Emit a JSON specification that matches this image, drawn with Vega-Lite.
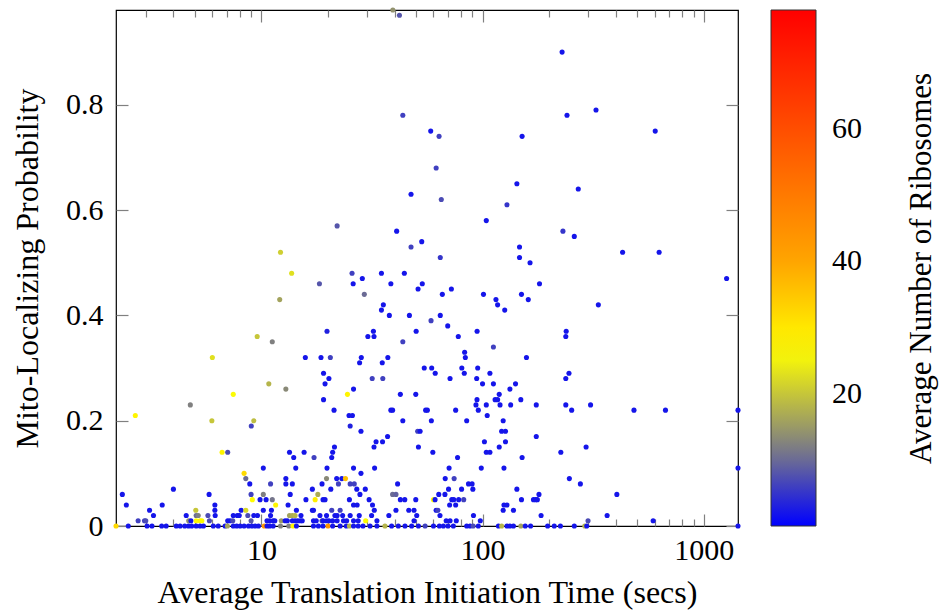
{
"$schema": "https://vega.github.io/schema/vega-lite/v6.json",
"width": 622, "height": 516,
"autosize": "none",
"padding": {"left": 116, "top": 10, "right": 204, "bottom": 84},
"background": "white",
"config": {
  "font": "Liberation Serif",
  "view": {"stroke": "#000", "strokeWidth": 1.2},
  "axis": {"labelFont": "Liberation Serif", "titleFont": "Liberation Serif", "labelFontSize": 30, "titleFontSize": 32, "titleFontWeight": "normal", "labelColor": "#000", "titleColor": "#000", "tickColor": "#808080", "tickWidth": 1.2, "domain": false, "grid": false, "titleLimit": 1000}
},
"data": {"values": [
{"time":39.3,"prob":0.98,"ribo":14},{"time":42.1,"prob":0.97,"ribo":8},{"time":43.6,"prob":0.78,"ribo":6},{"time":47.5,"prob":0.63,"ribo":2},{"time":22.0,"prob":0.57,"ribo":8},{"time":40.9,"prob":0.56,"ribo":2},{"time":47.5,"prob":0.53,"ribo":6},{"time":12.2,"prob":0.52,"ribo":21},{"time":13.7,"prob":0.48,"ribo":23},{"time":12.1,"prob":0.43,"ribo":16},
{"time":18.3,"prob":0.46,"ribo":8},{"time":25.7,"prob":0.48,"ribo":6},{"time":26.0,"prob":0.46,"ribo":2},{"time":28.6,"prob":0.47,"ribo":2},{"time":29.2,"prob":0.44,"ribo":10},{"time":34.9,"prob":0.48,"ribo":2},{"time":38.5,"prob":0.46,"ribo":2},{"time":44.3,"prob":0.48,"ribo":2},{"time":51.1,"prob":0.45,"ribo":2},{"time":35.6,"prob":0.42,"ribo":2},
{"time":34.9,"prob":0.41,"ribo":2},{"time":37.9,"prob":0.40,"ribo":2},{"time":46.7,"prob":0.40,"ribo":2},{"time":19.8,"prob":0.37,"ribo":3},{"time":9.57,"prob":0.36,"ribo":20},{"time":11.2,"prob":0.35,"ribo":12},{"time":30.3,"prob":0.36,"ribo":2},{"time":32.1,"prob":0.37,"ribo":2},{"time":32.3,"prob":0.36,"ribo":2},{"time":43.6,"prob":0.35,"ribo":6},
{"time":50.1,"prob":0.37,"ribo":2},{"time":6.0,"prob":0.32,"ribo":23},{"time":15.8,"prob":0.32,"ribo":2},{"time":18.6,"prob":0.32,"ribo":2},{"time":20.5,"prob":0.32,"ribo":6},{"time":19.1,"prob":0.29,"ribo":2},{"time":20.2,"prob":0.28,"ribo":2},{"time":19.4,"prob":0.27,"ribo":2},{"time":10.8,"prob":0.27,"ribo":18},{"time":12.9,"prob":0.26,"ribo":13},
{"time":19.1,"prob":0.24,"ribo":2},{"time":27.8,"prob":0.31,"ribo":2},{"time":28.3,"prob":0.32,"ribo":2},{"time":35.2,"prob":0.31,"ribo":2},{"time":37.3,"prob":0.32,"ribo":2},{"time":31.7,"prob":0.28,"ribo":6},{"time":35.4,"prob":0.28,"ribo":6},{"time":26.1,"prob":0.26,"ribo":2},{"time":24.5,"prob":0.25,"ribo":28},{"time":7.46,"prob":0.25,"ribo":26},
{"time":4.77,"prob":0.23,"ribo":12},{"time":2.69,"prob":0.21,"ribo":28},{"time":5.97,"prob":0.20,"ribo":20},{"time":9.24,"prob":0.20,"ribo":19},{"time":9.0,"prob":0.19,"ribo":6},{"time":21.3,"prob":0.22,"ribo":2},{"time":24.9,"prob":0.21,"ribo":2},{"time":25.8,"prob":0.21,"ribo":2},{"time":25.2,"prob":0.19,"ribo":3},{"time":28.2,"prob":0.18,"ribo":2},
{"time":38.5,"prob":0.22,"ribo":2},{"time":39.2,"prob":0.22,"ribo":2},{"time":42.5,"prob":0.25,"ribo":2},{"time":49.9,"prob":0.25,"ribo":2},{"time":43.6,"prob":0.20,"ribo":2},{"time":50.9,"prob":0.18,"ribo":6},{"time":52.2,"prob":0.18,"ribo":2},{"time":51.3,"prob":0.15,"ribo":2},{"time":37.2,"prob":0.17,"ribo":2},{"time":33.0,"prob":0.16,"ribo":2},
{"time":35.3,"prob":0.16,"ribo":2},{"time":32.3,"prob":0.15,"ribo":2},{"time":6.64,"prob":0.14,"ribo":28},{"time":7.04,"prob":0.14,"ribo":7},{"time":13.4,"prob":0.14,"ribo":2},{"time":14.0,"prob":0.13,"ribo":2},{"time":15.6,"prob":0.14,"ribo":2},{"time":17.3,"prob":0.13,"ribo":6},{"time":20.8,"prob":0.13,"ribo":2},{"time":21.0,"prob":0.14,"ribo":2},
{"time":21.4,"prob":0.15,"ribo":2},{"time":10.2,"prob":0.11,"ribo":2},{"time":14.3,"prob":0.11,"ribo":2},{"time":19.8,"prob":0.11,"ribo":2},{"time":26.1,"prob":0.11,"ribo":2},{"time":32.5,"prob":0.11,"ribo":2},{"time":28.2,"prob":0.10,"ribo":2},{"time":8.35,"prob":0.10,"ribo":32},{"time":8.5,"prob":0.09,"ribo":10},{"time":12.9,"prob":0.09,"ribo":2},
{"time":19.7,"prob":0.09,"ribo":13},{"time":21.9,"prob":0.09,"ribo":2},{"time":23.1,"prob":0.09,"ribo":2},{"time":24.0,"prob":0.09,"ribo":36},{"time":8.86,"prob":0.08,"ribo":2},{"time":11.0,"prob":0.08,"ribo":6},{"time":12.9,"prob":0.08,"ribo":2},{"time":13.8,"prob":0.08,"ribo":2},{"time":18.8,"prob":0.08,"ribo":2},{"time":22.3,"prob":0.08,"ribo":6},
{"time":25.2,"prob":0.08,"ribo":6},{"time":26.3,"prob":0.08,"ribo":6},{"time":41.3,"prob":0.08,"ribo":2},{"time":4.0,"prob":0.07,"ribo":2},{"time":17.0,"prob":0.07,"ribo":2},{"time":20.6,"prob":0.07,"ribo":2},{"time":27.0,"prob":0.07,"ribo":2},{"time":29.5,"prob":0.07,"ribo":2},{"time":2.35,"prob":0.06,"ribo":2},{"time":5.8,"prob":0.06,"ribo":2},
{"time":8.98,"prob":0.06,"ribo":6},{"time":10.2,"prob":0.06,"ribo":12},{"time":13.5,"prob":0.06,"ribo":2},{"time":18.0,"prob":0.06,"ribo":17},{"time":27.9,"prob":0.06,"ribo":2},{"time":39.2,"prob":0.06,"ribo":10},{"time":40.6,"prob":0.06,"ribo":9},{"time":2.45,"prob":0.04,"ribo":2},{"time":3.56,"prob":0.04,"ribo":2},{"time":6.16,"prob":0.04,"ribo":2},
{"time":9.1,"prob":0.05,"ribo":27},{"time":9.86,"prob":0.05,"ribo":2},{"time":10.5,"prob":0.05,"ribo":2},{"time":11.2,"prob":0.05,"ribo":11},{"time":11.6,"prob":0.04,"ribo":28},{"time":13.2,"prob":0.04,"ribo":2},{"time":15.9,"prob":0.05,"ribo":2},{"time":17.5,"prob":0.05,"ribo":29},{"time":19.0,"prob":0.05,"ribo":2},{"time":19.4,"prob":0.05,"ribo":2},
{"time":25.0,"prob":0.05,"ribo":2},{"time":26.1,"prob":0.04,"ribo":2},{"time":27.1,"prob":0.04,"ribo":2},{"time":30.7,"prob":0.05,"ribo":2},{"time":31.8,"prob":0.04,"ribo":2},{"time":42.5,"prob":0.05,"ribo":2},{"time":44.5,"prob":0.05,"ribo":2},{"time":49.9,"prob":0.05,"ribo":2},{"time":3.12,"prob":0.03,"ribo":2},{"time":5.05,"prob":0.03,"ribo":20},
{"time":6.16,"prob":0.03,"ribo":2},{"time":8.1,"prob":0.03,"ribo":2},{"time":8.5,"prob":0.03,"ribo":22},{"time":10.2,"prob":0.03,"ribo":2},{"time":11.1,"prob":0.03,"ribo":2},{"time":14.4,"prob":0.03,"ribo":2},{"time":17.0,"prob":0.03,"ribo":2},{"time":17.2,"prob":0.03,"ribo":2},{"time":20.8,"prob":0.03,"ribo":6},{"time":22.7,"prob":0.03,"ribo":6},
{"time":32.4,"prob":0.03,"ribo":2},{"time":40.6,"prob":0.03,"ribo":2},{"time":46.4,"prob":0.03,"ribo":2},{"time":49.0,"prob":0.03,"ribo":2},
{"time":3.25,"prob":0.02,"ribo":2},{"time":4.57,"prob":0.02,"ribo":2},{"time":5.07,"prob":0.02,"ribo":10},{"time":5.18,"prob":0.02,"ribo":12},{"time":5.73,"prob":0.02,"ribo":7},{"time":6.18,"prob":0.02,"ribo":2},{"time":7.46,"prob":0.02,"ribo":2},{"time":7.78,"prob":0.02,"ribo":2},{"time":7.94,"prob":0.02,"ribo":2},{"time":8.68,"prob":0.02,"ribo":7},
{"time":9.24,"prob":0.02,"ribo":2},{"time":9.6,"prob":0.02,"ribo":2},{"time":11.0,"prob":0.02,"ribo":2},{"time":13.4,"prob":0.02,"ribo":16},{"time":13.8,"prob":0.02,"ribo":17},{"time":14.2,"prob":0.02,"ribo":18},{"time":15.1,"prob":0.02,"ribo":2},{"time":18.4,"prob":0.02,"ribo":2},{"time":19.7,"prob":0.02,"ribo":2},{"time":21.5,"prob":0.02,"ribo":2},
{"time":22.0,"prob":0.02,"ribo":2},{"time":23.3,"prob":0.02,"ribo":2},{"time":25.2,"prob":0.02,"ribo":2},{"time":27.7,"prob":0.02,"ribo":2},{"time":31.5,"prob":0.02,"ribo":2},{"time":37.7,"prob":0.02,"ribo":2},{"time":50.4,"prob":0.02,"ribo":2},
{"time":2.77,"prob":0.01,"ribo":6},{"time":2.96,"prob":0.01,"ribo":6},{"time":3.0,"prob":0.01,"ribo":7},{"time":4.69,"prob":0.01,"ribo":14},{"time":4.8,"prob":0.01,"ribo":2},{"time":5.07,"prob":0.01,"ribo":27},{"time":5.28,"prob":0.01,"ribo":28},{"time":5.38,"prob":0.01,"ribo":27},{"time":5.82,"prob":0.01,"ribo":7},{"time":7.04,"prob":0.01,"ribo":2},
{"time":7.21,"prob":0.01,"ribo":2},{"time":7.42,"prob":0.01,"ribo":7},{"time":8.98,"prob":0.01,"ribo":8},{"time":10.6,"prob":0.01,"ribo":2},{"time":10.9,"prob":0.01,"ribo":2},{"time":11.3,"prob":0.01,"ribo":2},{"time":11.5,"prob":0.01,"ribo":2},{"time":12.3,"prob":0.01,"ribo":15},{"time":12.8,"prob":0.01,"ribo":2},{"time":13.1,"prob":0.01,"ribo":2},
{"time":13.8,"prob":0.01,"ribo":2},{"time":14.2,"prob":0.01,"ribo":2},{"time":14.6,"prob":0.01,"ribo":2},{"time":15.0,"prob":0.01,"ribo":2},{"time":15.3,"prob":0.01,"ribo":2},{"time":17.2,"prob":0.01,"ribo":2},{"time":17.7,"prob":0.01,"ribo":2},{"time":18.8,"prob":0.01,"ribo":7},{"time":19.0,"prob":0.01,"ribo":2},{"time":19.7,"prob":0.01,"ribo":2},
{"time":20.2,"prob":0.01,"ribo":2},{"time":21.0,"prob":0.01,"ribo":2},{"time":22.0,"prob":0.01,"ribo":2},{"time":23.5,"prob":0.01,"ribo":2},{"time":24.3,"prob":0.01,"ribo":2},{"time":26.1,"prob":0.01,"ribo":2},{"time":27.4,"prob":0.01,"ribo":2},{"time":29.6,"prob":0.01,"ribo":27},{"time":33.3,"prob":0.01,"ribo":2},{"time":49.0,"prob":0.01,"ribo":2},
{"time":2.2,"prob":0,"ribo":32},{"time":2.5,"prob":0,"ribo":2},{"time":3.04,"prob":0,"ribo":2},{"time":3.2,"prob":0,"ribo":2},{"time":3.54,"prob":0,"ribo":2},{"time":3.71,"prob":0,"ribo":2},{"time":4.12,"prob":0,"ribo":2},{"time":4.29,"prob":0,"ribo":2},{"time":4.5,"prob":0,"ribo":2},{"time":4.68,"prob":0,"ribo":2},
{"time":4.84,"prob":0,"ribo":2},{"time":5.07,"prob":0,"ribo":2},{"time":5.28,"prob":0,"ribo":2},{"time":5.47,"prob":0,"ribo":2},{"time":6.06,"prob":0,"ribo":2},{"time":6.38,"prob":0,"ribo":2},{"time":6.85,"prob":0,"ribo":2},{"time":7.02,"prob":0,"ribo":16},{"time":7.46,"prob":0,"ribo":2},{"time":7.73,"prob":0,"ribo":2},
{"time":8.01,"prob":0,"ribo":2},{"time":8.35,"prob":0,"ribo":2},{"time":8.74,"prob":0,"ribo":2},{"time":9.06,"prob":0,"ribo":2},{"time":9.37,"prob":0,"ribo":2},{"time":9.7,"prob":0,"ribo":2},{"time":10.3,"prob":0,"ribo":44},{"time":10.6,"prob":0,"ribo":2},{"time":10.9,"prob":0,"ribo":2},{"time":11.3,"prob":0,"ribo":2},
{"time":12.2,"prob":0,"ribo":12},{"time":13.3,"prob":0,"ribo":12},{"time":13.9,"prob":0,"ribo":28},{"time":14.4,"prob":0,"ribo":2},{"time":17.2,"prob":0,"ribo":2},{"time":18.1,"prob":0,"ribo":2},{"time":19.0,"prob":0,"ribo":2},{"time":20.0,"prob":0,"ribo":44},{"time":21.0,"prob":0,"ribo":2},{"time":22.7,"prob":0,"ribo":2},
{"time":24.2,"prob":0,"ribo":2},{"time":25.0,"prob":0,"ribo":18},{"time":26.1,"prob":0,"ribo":2},{"time":27.4,"prob":0,"ribo":2},{"time":28.8,"prob":0,"ribo":2},{"time":31.0,"prob":0,"ribo":2},{"time":33.3,"prob":0,"ribo":2},{"time":36.2,"prob":0,"ribo":18},{"time":38.8,"prob":0,"ribo":2},{"time":41.6,"prob":0,"ribo":2},
{"time":44.6,"prob":0,"ribo":2},{"time":47.8,"prob":0,"ribo":2},{"time":51.3,"prob":0,"ribo":2},
{"time":229,"prob":0.90,"ribo":2},{"time":326,"prob":0.79,"ribo":2},{"time":241,"prob":0.78,"ribo":2},{"time":604,"prob":0.75,"ribo":2},{"time":58.3,"prob":0.75,"ribo":2},{"time":63.6,"prob":0.74,"ribo":6},{"time":151,"prob":0.74,"ribo":2},{"time":61.7,"prob":0.68,"ribo":6},{"time":143,"prob":0.65,"ribo":2},{"time":271,"prob":0.64,"ribo":2},
{"time":65.1,"prob":0.62,"ribo":7},{"time":129,"prob":0.61,"ribo":5},{"time":104,"prob":0.58,"ribo":2},{"time":231,"prob":0.56,"ribo":5},{"time":260,"prob":0.55,"ribo":2},{"time":53.1,"prob":0.54,"ribo":2},{"time":147,"prob":0.53,"ribo":2},{"time":147,"prob":0.51,"ribo":2},{"time":430,"prob":0.52,"ribo":2},{"time":629,"prob":0.52,"ribo":2},
{"time":64.4,"prob":0.51,"ribo":5},{"time":164,"prob":0.50,"ribo":2},{"time":53.4,"prob":0.46,"ribo":2},{"time":181,"prob":0.46,"ribo":2},{"time":1270,"prob":0.47,"ribo":2},{"time":72.3,"prob":0.45,"ribo":2},{"time":65.8,"prob":0.44,"ribo":2},{"time":101,"prob":0.44,"ribo":2},{"time":150,"prob":0.44,"ribo":2},{"time":115,"prob":0.43,"ribo":2},
{"time":117,"prob":0.42,"ribo":2},{"time":161,"prob":0.43,"ribo":2},{"time":126,"prob":0.41,"ribo":2},{"time":334,"prob":0.42,"ribo":2},{"time":64.4,"prob":0.40,"ribo":2},{"time":58.5,"prob":0.39,"ribo":6},{"time":69.6,"prob":0.38,"ribo":2},{"time":77.7,"prob":0.36,"ribo":2},{"time":94.5,"prob":0.37,"ribo":2},{"time":239,"prob":0.37,"ribo":2},
{"time":238,"prob":0.36,"ribo":2},{"time":112,"prob":0.34,"ribo":6},{"time":83.0,"prob":0.33,"ribo":2},{"time":83.6,"prob":0.32,"ribo":2},{"time":158,"prob":0.32,"ribo":2},{"time":54.5,"prob":0.30,"ribo":2},{"time":58.9,"prob":0.30,"ribo":2},{"time":61.1,"prob":0.29,"ribo":2},{"time":80.6,"prob":0.30,"ribo":2},{"time":82.7,"prob":0.29,"ribo":2},
{"time":95.1,"prob":0.30,"ribo":2},{"time":94.1,"prob":0.28,"ribo":2},{"time":71.3,"prob":0.28,"ribo":2},{"time":108,"prob":0.29,"ribo":2},{"time":100,"prob":0.27,"ribo":2},{"time":112,"prob":0.27,"ribo":2},{"time":141,"prob":0.27,"ribo":2},{"time":133,"prob":0.26,"ribo":2},{"time":119,"prob":0.25,"ribo":2},{"time":114,"prob":0.24,"ribo":2},
{"time":117,"prob":0.24,"ribo":2},{"time":94.4,"prob":0.24,"ribo":2},{"time":149,"prob":0.24,"ribo":2},{"time":238,"prob":0.28,"ribo":2},{"time":246,"prob":0.29,"ribo":2},{"time":93.4,"prob":0.23,"ribo":2},{"time":104,"prob":0.23,"ribo":2},{"time":120,"prob":0.23,"ribo":2},{"time":134,"prob":0.23,"ribo":2},{"time":175,"prob":0.23,"ribo":2},
{"time":238,"prob":0.23,"ribo":2},{"time":308,"prob":0.23,"ribo":2},{"time":55.3,"prob":0.22,"ribo":2},{"time":56.3,"prob":0.22,"ribo":2},{"time":75.6,"prob":0.22,"ribo":2},{"time":95.7,"prob":0.22,"ribo":2},{"time":253,"prob":0.22,"ribo":2},{"time":484,"prob":0.22,"ribo":2},{"time":672,"prob":0.22,"ribo":2},{"time":1430,"prob":0.22,"ribo":2},
{"time":58.7,"prob":0.20,"ribo":2},{"time":84.8,"prob":0.20,"ribo":2},{"time":105,"prob":0.21,"ribo":2},{"time":124,"prob":0.20,"ribo":2},{"time":122,"prob":0.18,"ribo":2},{"time":127,"prob":0.18,"ribo":2},{"time":102,"prob":0.16,"ribo":2},{"time":127,"prob":0.16,"ribo":2},{"time":175,"prob":0.17,"ribo":2},{"time":119,"prob":0.15,"ribo":2},
{"time":294,"prob":0.15,"ribo":2},{"time":59.6,"prob":0.14,"ribo":2},{"time":104,"prob":0.14,"ribo":2},{"time":108,"prob":0.14,"ribo":2},{"time":226,"prob":0.14,"ribo":2},{"time":77.1,"prob":0.13,"ribo":2},{"time":151,"prob":0.13,"ribo":2},{"time":70.6,"prob":0.11,"ribo":2},{"time":98.7,"prob":0.11,"ribo":2},{"time":125,"prob":0.11,"ribo":2},
{"time":1430,"prob":0.11,"ribo":2},{"time":67.8,"prob":0.09,"ribo":2},{"time":74.4,"prob":0.09,"ribo":6},{"time":247,"prob":0.09,"ribo":2},{"time":86.4,"prob":0.08,"ribo":2},{"time":89.7,"prob":0.08,"ribo":2},{"time":277,"prob":0.08,"ribo":2},{"time":70.2,"prob":0.07,"ribo":2},{"time":80.4,"prob":0.07,"ribo":2},{"time":90.4,"prob":0.07,"ribo":2},
{"time":143,"prob":0.07,"ribo":2},{"time":63.4,"prob":0.06,"ribo":2},{"time":67.6,"prob":0.06,"ribo":2},{"time":180,"prob":0.06,"ribo":2},{"time":405,"prob":0.06,"ribo":2},{"time":60.0,"prob":0.05,"ribo":27},{"time":61.0,"prob":0.05,"ribo":2},{"time":72.6,"prob":0.05,"ribo":2},{"time":74.1,"prob":0.05,"ribo":2},{"time":78.0,"prob":0.05,"ribo":2},
{"time":82.2,"prob":0.05,"ribo":6},{"time":150,"prob":0.05,"ribo":2},{"time":170,"prob":0.05,"ribo":2},{"time":174,"prob":0.05,"ribo":2},{"time":177,"prob":0.05,"ribo":2},{"time":71.0,"prob":0.04,"ribo":2},{"time":75.6,"prob":0.04,"ribo":2},{"time":125,"prob":0.04,"ribo":2},{"time":129,"prob":0.04,"ribo":2},{"time":61.7,"prob":0.03,"ribo":2},
{"time":62.8,"prob":0.03,"ribo":6},{"time":124,"prob":0.03,"ribo":2},{"time":138,"prob":0.03,"ribo":2},{"time":64.2,"prob":0.02,"ribo":2},{"time":91.0,"prob":0.02,"ribo":2},{"time":184,"prob":0.02,"ribo":2},{"time":366,"prob":0.02,"ribo":2},{"time":68.5,"prob":0.01,"ribo":2},{"time":71.3,"prob":0.01,"ribo":2},{"time":76.1,"prob":0.01,"ribo":2},
{"time":97.7,"prob":0.01,"ribo":2},{"time":300,"prob":0.01,"ribo":7},{"time":591,"prob":0.01,"ribo":2},
{"time":55.0,"prob":0,"ribo":6},{"time":60.0,"prob":0,"ribo":2},{"time":63.8,"prob":0,"ribo":2},{"time":66.5,"prob":0,"ribo":2},{"time":69.8,"prob":0,"ribo":2},{"time":73.8,"prob":0,"ribo":2},{"time":84.8,"prob":0,"ribo":2},{"time":87.8,"prob":0,"ribo":2},{"time":90.7,"prob":0,"ribo":7},{"time":95.7,"prob":0,"ribo":2},
{"time":118,"prob":0,"ribo":2},{"time":122,"prob":0,"ribo":18},{"time":129,"prob":0,"ribo":2},{"time":133,"prob":0,"ribo":2},{"time":138,"prob":0,"ribo":2},{"time":149,"prob":0,"ribo":16},{"time":156,"prob":0,"ribo":2},{"time":165,"prob":0,"ribo":2},{"time":197,"prob":0,"ribo":2},{"time":211,"prob":0,"ribo":2},
{"time":225,"prob":0,"ribo":2},{"time":260,"prob":0,"ribo":2},{"time":290,"prob":0,"ribo":18},{"time":296,"prob":0,"ribo":2},{"time":1430,"prob":0,"ribo":2}
]},
"resolve": {"axis": {"x": "independent", "y": "independent"}},
"layer": [
  {
    "mark": {"type": "point", "filled": true, "size": 26, "opacity": 1},
    "encoding": {
      "x": {"field": "time", "type": "quantitative",
        "scale": {"type": "log", "domain": [2.2, 1430], "nice": false},
        "axis": {"orient": "bottom", "values": [10, 100, 1000], "format": "d", "tickSize": -12, "labelPadding": 21, "title": "Average Translation Initiation Time (secs)", "titlePadding": 12}},
      "y": {"field": "prob", "type": "quantitative",
        "scale": {"domain": [0, 0.98], "nice": false, "zero": false},
        "axis": {"orient": "left", "values": [0, 0.2, 0.4, 0.6, 0.8], "labelExpr": "datum.value == 0 ? '0' : format(datum.value, '.1f')", "tickSize": -12, "labelPadding": 25, "title": "Mito-Localizing Probability", "titlePadding": 21}},
      "color": {"field": "ribo", "type": "quantitative",
        "scale": {"domain": [0, 12, 26.5, 40, 78], "range": ["#0000ff", "#808080", "#ffff00", "#ffa500", "#ff0000"], "interpolate": "rgb"},
        "legend": {"type": "gradient", "orient": "none", "legendX": 655, "legendY": 0, "direction": "vertical", "values": [20, 40, 60],
          "gradientLength": 516, "gradientThickness": 45, "gradientStrokeColor": "#333", "gradientStrokeWidth": 1,
          "labelFont": "Liberation Serif", "labelFontSize": 30, "labelColor": "#000", "labelOffset": 16, "labelOverlap": false,
          "title": null}}
    }
  },
  {
    "mark": {"type": "point", "opacity": 0},
    "encoding": {
      "x": {"field": "time", "type": "quantitative", "scale": {"type": "log", "domain": [2.2, 1430], "nice": false},
        "axis": {"orient": "top", "values": [10, 100, 1000], "labels": false, "tickSize": -12, "title": null}},
      "y": {"field": "prob", "type": "quantitative", "scale": {"domain": [0, 0.98], "nice": false, "zero": false},
        "axis": {"orient": "right", "values": [0, 0.2, 0.4, 0.6, 0.8], "labels": false, "tickSize": -12,
          "title": "Average Number of Ribosomes", "titleFontSize": 31, "titleAngle": 270, "titleBaseline": "top", "titlePadding": 168}}
    }
  },
  {
    "mark": {"type": "point", "opacity": 0},
    "encoding": {
      "x": {"field": "time", "type": "quantitative", "scale": {"type": "log", "domain": [2.2, 1430], "nice": false},
        "axis": {"orient": "bottom", "values": [3,4,5,6,7,8,9,20,30,40,50,60,70,80,90,200,300,400,500,600,700,800,900], "labels": false, "tickSize": -7, "title": null}},
      "y": {"field": "prob", "type": "quantitative", "scale": {"domain": [0, 0.98], "nice": false, "zero": false}, "axis": null}
    }
  },
  {
    "mark": {"type": "point", "opacity": 0},
    "encoding": {
      "x": {"field": "time", "type": "quantitative", "scale": {"type": "log", "domain": [2.2, 1430], "nice": false},
        "axis": {"orient": "top", "values": [3,4,5,6,7,8,9,20,30,40,50,60,70,80,90,200,300,400,500,600,700,800,900], "labels": false, "tickSize": -7, "title": null}},
      "y": {"field": "prob", "type": "quantitative", "scale": {"domain": [0, 0.98], "nice": false, "zero": false}, "axis": null}
    }
  }
]
}
